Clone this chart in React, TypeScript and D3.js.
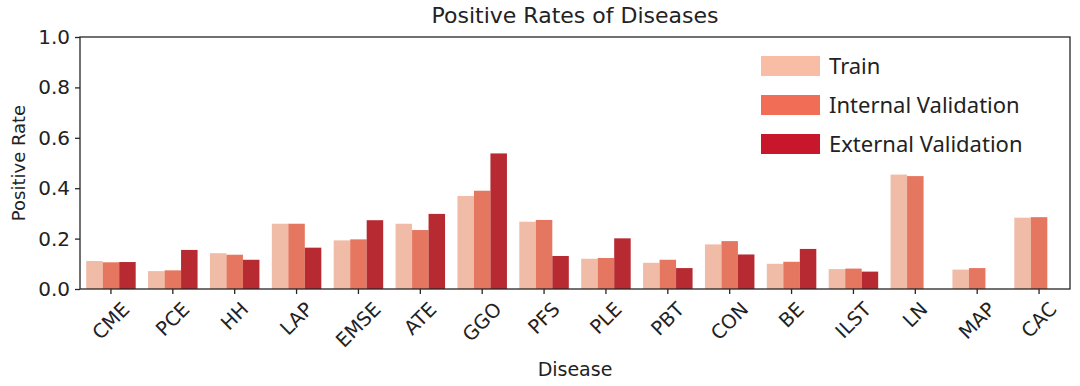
import React, { useEffect, useRef } from "react";
import * as d3 from "d3";

const diseases = ["CME", "PCE", "HH", "LAP", "EMSE", "ATE", "GGO", "PFS", "PLE", "PBT", "CON", "BE", "ILST", "LN", "MAP", "CAC"];
const seriesNames = ["Train", "Internal Validation", "External Validation"];
const train = [0.111, 0.071, 0.142, 0.259, 0.193, 0.259, 0.369, 0.267, 0.12, 0.104, 0.177, 0.1, 0.079, 0.454, 0.077, 0.283];
const internal = [0.106, 0.074, 0.136, 0.259, 0.197, 0.234, 0.39, 0.274, 0.123, 0.116, 0.19, 0.108, 0.081, 0.448, 0.083, 0.285];
const external = [0.107, 0.155, 0.116, 0.164, 0.273, 0.298, 0.538, 0.131, 0.201, 0.083, 0.137, 0.159, 0.069, null, null, null];
const yTicks = [0, 0.2, 0.4, 0.6, 0.8, 1.0];

const barColors = ["#f0bca7", "#e5765f", "#b72a31"];
const legendColors = ["#f9bca4", "#f26d55", "#c8162a"];

const W = 1080;
const H = 386;
const margin = { top: 37, right: 10, bottom: 97, left: 80 };

export default function App() {
  const ref = useRef<SVGSVGElement>(null);

  useEffect(() => {
    const svg = d3.select(ref.current);
    svg.selectAll("*").remove();

    const x0 = d3.scaleBand().domain(diseases).range([margin.left, W - margin.right]).padding(0);
    const bw = x0.bandwidth();
    const x1 = d3.scaleBand().domain(seriesNames).range([0.1 * bw, 0.9 * bw]).padding(0);
    const y = d3.scaleLinear().domain([0, 1]).range([H - margin.bottom, margin.top]);

    const rows = diseases.map((d, i) => ({ d, vals: [train[i], internal[i], external[i]] }));

    // bars
    const g = svg.append("g");
    rows.forEach((r) => {
      r.vals.forEach((v, j) => {
        if (v == null) return;
        g.append("rect")
          .attr("x", (x0(r.d) as number) + (x1(seriesNames[j]) as number))
          .attr("y", y(v))
          .attr("width", x1.bandwidth())
          .attr("height", y(0) - y(v))
          .attr("fill", barColors[j]);
      });
    });

    // frame
    svg.append("rect")
      .attr("x", margin.left)
      .attr("y", margin.top)
      .attr("width", W - margin.left - margin.right)
      .attr("height", H - margin.top - margin.bottom)
      .attr("fill", "none")
      .attr("stroke", "#262626")
      .attr("stroke-width", 1.3);

    // y axis
    const yAxis = svg.append("g")
      .attr("transform", `translate(${margin.left},0)`)
      .call(d3.axisLeft(y).tickValues(yTicks).tickFormat(d3.format(".1f")).tickSize(5).tickPadding(5));
    yAxis.select(".domain").remove();
    yAxis.selectAll("line").attr("stroke", "#262626").attr("stroke-width", 1.3);
    yAxis.selectAll("text")
      .attr("fill", "#222")
      .style("font-family", "DejaVu Sans")
      .style("font-size", "20px");

    // x axis ticks
    const xAxis = svg.append("g")
      .attr("transform", `translate(0,${y(0)})`)
      .call(d3.axisBottom(x0).tickSize(5).tickFormat(() => ""));
    xAxis.select(".domain").remove();
    xAxis.selectAll("line").attr("stroke", "#262626").attr("stroke-width", 1.3);

    // rotated x tick labels (centered like matplotlib rotation=45)
    const fs = 19.5;
    const labelTop = y(0) + 10;
    const lg = svg.append("g");
    diseases.forEach((d) => {
      const cx = (x0(d) as number) + bw / 2;
      const t = lg.append("text")
        .text(d)
        .attr("text-anchor", "middle")
        .attr("dominant-baseline", "central")
        .attr("fill", "#222")
        .style("font-family", "DejaVu Sans")
        .style("font-size", `${fs}px`);
      const w = (t.node() as SVGTextElement).getComputedTextLength();
      const h = fs * 1.0;
      const boxH = (w + h) / Math.SQRT2;
      t.attr("transform", `translate(${cx},${labelTop + boxH / 2}) rotate(-45)`);
    });

    // title and axis labels
    svg.append("text")
      .attr("x", (margin.left + W - margin.right) / 2)
      .attr("y", 23)
      .attr("text-anchor", "middle")
      .attr("fill", "#222")
      .style("font-family", "DejaVu Sans")
      .style("font-size", "22px")
      .text("Positive Rates of Diseases");

    svg.append("text")
      .attr("x", (margin.left + W - margin.right) / 2)
      .attr("y", 376)
      .attr("text-anchor", "middle")
      .attr("fill", "#222")
      .style("font-family", "DejaVu Sans")
      .style("font-size", "19px")
      .text("Disease");

    svg.append("text")
      .attr("transform", `translate(25,${(margin.top + H - margin.bottom) / 2}) rotate(-90)`)
      .attr("text-anchor", "middle")
      .attr("fill", "#222")
      .style("font-family", "DejaVu Sans")
      .style("font-size", "18px")
      .text("Positive Rate");

    // legend
    const leg = svg.append("g").attr("transform", "translate(761,56)");
    seriesNames.forEach((s, i) => {
      leg.append("rect")
        .attr("x", 0)
        .attr("y", i * 39)
        .attr("width", 59)
        .attr("height", 20)
        .attr("fill", legendColors[i]);
      leg.append("text")
        .attr("x", 68)
        .attr("y", i * 39 + 18)
        .attr("fill", "#222")
        .style("font-family", "Noto Sans")
        .style("font-size", "22px")
        .text(s);
    });
  }, []);

  return <svg ref={ref} width={W} height={H} style={{ position: "absolute", left: 0, top: 0, background: "#fff" }} />;
}
